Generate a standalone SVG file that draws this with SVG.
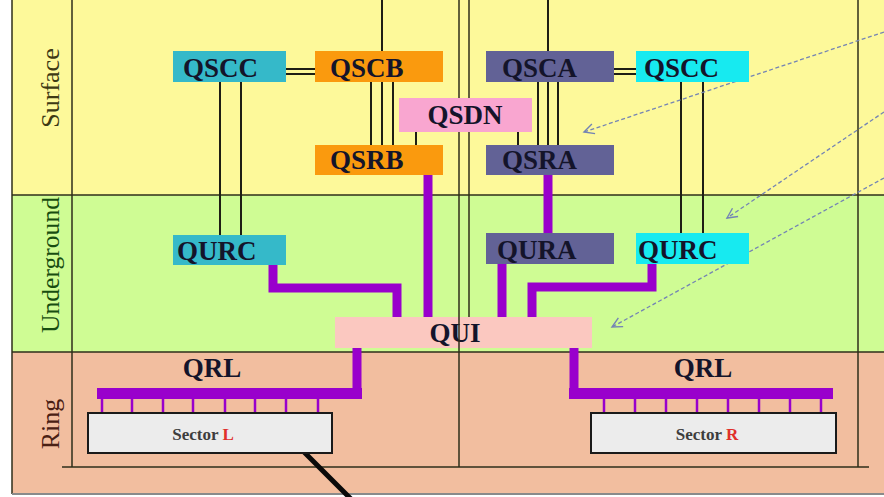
<svg xmlns="http://www.w3.org/2000/svg" width="884" height="497" viewBox="0 0 884 497">
<defs>
<style>
.node text{font-family:"Liberation Serif","Times New Roman",serif;font-weight:bold;font-size:27px;fill:#14142a}
.thin{stroke:#1e1e14;stroke-width:2;fill:none}
.grid{stroke:#2e2e1a;stroke-width:1.5;fill:none}
.pur{stroke:#9900cc;stroke-width:9;fill:none;stroke-linejoin:miter;stroke-linecap:butt}
.tick{stroke:#9900cc;stroke-width:2.5}
.dash{stroke:#7484b4;stroke-width:1.3;stroke-dasharray:4 2.5;fill:none}
.band{font-family:"Liberation Serif","Times New Roman",serif;font-size:26px}
.sector{font-family:"Liberation Serif","Times New Roman",serif;font-weight:bold;font-size:17px;fill:#3d3d3d}
</style>
<marker id="ah" markerUnits="userSpaceOnUse" markerWidth="14" markerHeight="14" refX="0" refY="0" viewBox="-12 -7 14 14" orient="auto">
<path d="M-10,-5 L0,0 L-10,5" fill="none" stroke="#7484b4" stroke-width="1.4"/>
</marker>
</defs>

<g id="background">
<rect x="0" y="0" width="884" height="497" fill="#ffffff"/>
<rect x="12" y="0" width="872" height="195" fill="#fdf99a"/>
<rect x="12" y="195" width="872" height="157" fill="#cffc94"/>
<rect x="12" y="352" width="872" height="142" fill="#f2be9f"/>
<line class="grid" x1="12" y1="0" x2="12" y2="494"/>
<line class="grid" x1="72" y1="0" x2="72" y2="467"/>
<line class="grid" x1="858" y1="0" x2="858" y2="467"/>
<line class="grid" x1="12" y1="195" x2="884" y2="195"/>
<line class="grid" x1="12" y1="352" x2="884" y2="352"/>
<line class="grid" x1="62" y1="467" x2="869" y2="467" stroke="#5a3a2a"/>
<line x1="12" y1="494" x2="884" y2="494" stroke="#8a8a8a" stroke-width="2"/>
<line class="grid" x1="459" y1="0" x2="459" y2="467"/>
<line class="grid" x1="469" y1="0" x2="469" y2="317"/>
</g>

<g id="band-labels">
<text class="band" fill="#3d3a14" text-anchor="middle" transform="translate(59,88) rotate(-90)">Surface</text>
<text class="band" fill="#174d10" text-anchor="middle" textLength="136" lengthAdjust="spacingAndGlyphs" transform="translate(59,265) rotate(-90)">Underground</text>
<text class="band" fill="#4a2014" text-anchor="middle" transform="translate(59,424) rotate(-90)">Ring</text>
</g>

<g id="connectors">
<line class="thin" x1="286" y1="69" x2="315" y2="69"/>
<line class="thin" x1="286" y1="74" x2="315" y2="74"/>
<line class="thin" x1="614" y1="69" x2="636" y2="69"/>
<line class="thin" x1="614" y1="74" x2="636" y2="74"/>
<line class="thin" x1="220" y1="82" x2="220" y2="235"/>
<line class="thin" x1="241" y1="82" x2="241" y2="235"/>
<line class="thin" x1="681" y1="82" x2="681" y2="233"/>
<line class="thin" x1="703" y1="82" x2="703" y2="233"/>
<line class="thin" x1="382" y1="0" x2="382" y2="145"/>
<line class="thin" x1="371" y1="82" x2="371" y2="145"/>
<line class="thin" x1="393" y1="82" x2="393" y2="145"/>
<line class="thin" x1="548" y1="0" x2="548" y2="145"/>
<line class="thin" x1="538" y1="82" x2="538" y2="145"/>
<line class="thin" x1="558" y1="82" x2="558" y2="145"/>
<line class="thin" x1="416" y1="132" x2="416" y2="145"/>
<line class="thin" x1="518" y1="132" x2="518" y2="145"/>
<path class="pur" d="M273,265 V288 H397 V317"/>
<path class="pur" d="M428,175 V317"/>
<path class="pur" d="M548,175 V233"/>
<path class="pur" d="M502,264 V317"/>
<path class="pur" d="M652,264 V287 H532 V317"/>
<path class="pur" d="M357,343 V392"/>
<rect x="97" y="388" width="265" height="11" fill="#9900cc"/>
<path class="pur" d="M574,348 V392"/>
<rect x="569" y="388" width="264" height="11" fill="#9900cc"/>
<g>
<line class="tick" x1="102" y1="399" x2="102" y2="413"/>
<line class="tick" x1="132" y1="399" x2="132" y2="413"/>
<line class="tick" x1="163" y1="399" x2="163" y2="413"/>
<line class="tick" x1="193" y1="399" x2="193" y2="413"/>
<line class="tick" x1="225" y1="399" x2="225" y2="413"/>
<line class="tick" x1="255" y1="399" x2="255" y2="413"/>
<line class="tick" x1="286" y1="399" x2="286" y2="413"/>
<line class="tick" x1="318" y1="399" x2="318" y2="413"/>
<line class="tick" x1="604" y1="399" x2="604" y2="413"/>
<line class="tick" x1="635" y1="399" x2="635" y2="413"/>
<line class="tick" x1="666" y1="399" x2="666" y2="413"/>
<line class="tick" x1="697" y1="399" x2="697" y2="413"/>
<line class="tick" x1="728" y1="399" x2="728" y2="413"/>
<line class="tick" x1="759" y1="399" x2="759" y2="413"/>
<line class="tick" x1="790" y1="399" x2="790" y2="413"/>
<line class="tick" x1="821" y1="399" x2="821" y2="413"/>
</g>
<line class="dash" x1="884" y1="32" x2="584" y2="132" marker-end="url(#ah)"/>
<line class="dash" x1="884" y1="112" x2="727" y2="218" marker-end="url(#ah)"/>
<line class="dash" x1="884" y1="178" x2="612" y2="327" marker-end="url(#ah)"/>
<line x1="300" y1="448" x2="352" y2="500" stroke="#0a0a0a" stroke-width="5" stroke-linecap="round"/>
</g>

<g id="QSCC-L" class="node"><rect x="173" y="51" width="113" height="31" fill="#35b9c9"/><text x="183" y="77">QSCC</text></g>
<g id="QSCB" class="node"><rect x="315" y="51" width="128" height="31" fill="#fa9a0e"/><text x="330" y="77">QSCB</text></g>
<g id="QSCA" class="node"><rect x="486" y="51" width="128" height="31" fill="#626296"/><text x="502" y="77">QSCA</text></g>
<g id="QSCC-R" class="node"><rect x="636" y="51" width="113" height="31" fill="#17eaf0"/><text x="644" y="77">QSCC</text></g>
<g id="QSDN" class="node"><rect x="399" y="98" width="133" height="34" fill="#f9a6d0"/><text x="465" y="124" text-anchor="middle">QSDN</text></g>
<g id="QSRB" class="node"><rect x="315" y="145" width="128" height="30" fill="#fa9a0e"/><text x="330" y="169">QSRB</text></g>
<g id="QSRA" class="node"><rect x="486" y="145" width="128" height="30" fill="#626296"/><text x="502" y="169">QSRA</text></g>
<g id="QURC-L" class="node"><rect x="173" y="235" width="113" height="30" fill="#35b9c9"/><text x="177" y="260">QURC</text></g>
<g id="QURA" class="node"><rect x="486" y="233" width="128" height="31" fill="#626296"/><text x="497" y="259">QURA</text></g>
<g id="QURC-R" class="node"><rect x="636" y="233" width="113" height="31" fill="#17eaf0"/><text x="638" y="259">QURC</text></g>
<g id="QUI" class="node"><rect x="335" y="317" width="257" height="31" fill="#fbc8c0"/><text x="455" y="342" text-anchor="middle">QUI</text></g>
<line class="grid" x1="459" y1="317" x2="459" y2="348"/>
<g id="QRL-L" class="node"><text x="212" y="377" text-anchor="middle">QRL</text></g>
<g id="QRL-R" class="node"><text x="703" y="377" text-anchor="middle">QRL</text></g>
<g id="SectorL"><rect x="88" y="413" width="244" height="40" fill="#ececec" stroke="#1a1a1a" stroke-width="2"/><text class="sector" x="203" y="440" text-anchor="middle">Sector <tspan fill="#e0302a">L</tspan></text></g>
<g id="SectorR"><rect x="591" y="413" width="245" height="40" fill="#ececec" stroke="#1a1a1a" stroke-width="2"/><text class="sector" x="707" y="440" text-anchor="middle">Sector <tspan fill="#e0302a">R</tspan></text></g>
</svg>
